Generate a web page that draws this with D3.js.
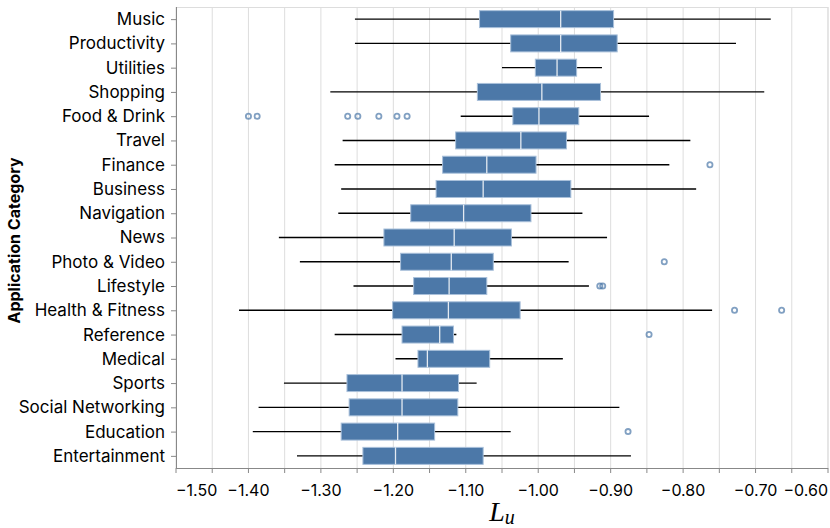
<!DOCTYPE html>
<html>
<head>
<meta charset="utf-8">
<script src="https://cdn.jsdelivr.net/npm/d3@7"></script>
<style>
  body { margin: 0; background: #fff; }
  text { font-family: Inter, "Noto Sans", sans-serif; }
</style>
</head>
<body>
<div id="chart"></div>
<script>
// categories, top to bottom
var categories = ['Music', 'Productivity', 'Utilities', 'Shopping', 'Food & Drink', 'Travel',
  'Finance', 'Business', 'Navigation', 'News', 'Photo & Video', 'Lifestyle', 'Health & Fitness',
  'Reference', 'Medical', 'Sports', 'Social Networking', 'Education', 'Entertainment'];

// box plot statistics
var lower  = [-1.253, -1.253, -1.050, -1.287, -1.107, -1.270, -1.281, -1.272, -1.276, -1.358,
              -1.329, -1.255, -1.413, -1.281, -1.197, -1.351, -1.386, -1.394, -1.333];
var q1     = [-1.081, -1.038, -1.004, -1.084, -1.035, -1.114, -1.132, -1.141, -1.176, -1.213,
              -1.190, -1.172, -1.201, -1.188, -1.166, -1.264, -1.261, -1.272, -1.242];
var median = [-0.969, -0.969, -0.974, -0.995, -0.999, -1.024, -1.071, -1.076, -1.103, -1.116,
              -1.120, -1.123, -1.124, -1.136, -1.153, -1.188, -1.188, -1.194, -1.197];
var q3     = [-0.896, -0.891, -0.947, -0.914, -0.944, -0.961, -1.003, -0.955, -1.010, -1.037,
              -1.062, -1.071, -1.025, -1.117, -1.067, -1.110, -1.111, -1.143, -1.076];
var upper  = [-0.679, -0.727, -0.912, -0.688, -0.847, -0.790, -0.819, -0.782, -0.939, -0.905,
              -0.958, -0.930, -0.760, -1.113, -0.966, -1.085, -0.888, -1.038, -0.872];
var outliers = [[], [], [], [],
  [-1.400, -1.388, -1.263, -1.249, -1.220, -1.195, -1.181],
  [], [-0.763], [], [], [], [-0.826], [-0.915, -0.911], [-0.729, -0.664],
  [-0.847], [], [], [], [-0.876], []];

var xDomain = [-1.5, -0.6];

var margin = { top: 7, right: 2, bottom: 60, left: 176 };
var width  = 830 - margin.left - margin.right;
var height = 528 - margin.top - margin.bottom;

var x = d3.scaleLinear().domain(xDomain).range([0, width]);
var y = d3.scaleBand().domain(categories).range([0, height]).paddingInner(0.3).paddingOuter(0.15);

var svg = d3.select('#chart').append('svg')
  .attr('width', 830).attr('height', 528)
  .append('g')
  .attr('transform', 'translate(' + margin.left + ',' + margin.top + ')');

var ticks = x.ticks(20);
var fmt = d3.format('.2f');

// grid
svg.append('g').selectAll('line').data(ticks).enter().append('line')
  .attr('x1', function(d) { return x(d); }).attr('x2', function(d) { return x(d); })
  .attr('y1', 0).attr('y2', height)
  .attr('stroke', '#ddd').attr('stroke-width', 1);

// view border
svg.append('rect')
  .attr('x', 0.5).attr('y', 0.5).attr('width', width - 0.5).attr('height', height)
  .attr('fill', 'none').attr('stroke', '#ddd');

var rows = svg.append('g').selectAll('g').data(categories).enter().append('g')
  .attr('transform', function(d) { return 'translate(0,' + (y(d) + y.bandwidth() / 2) + ')'; });

// whiskers
rows.append('line')
  .attr('x1', function(d, i) { return x(lower[i]); })
  .attr('x2', function(d, i) { return x(upper[i]); })
  .attr('y1', 0).attr('y2', 0)
  .attr('stroke', '#000').attr('stroke-width', 1.4);

// boxes
rows.append('rect')
  .attr('x', function(d, i) { return x(q1[i]); })
  .attr('width', function(d, i) { return x(q3[i]) - x(q1[i]); })
  .attr('y', -y.bandwidth() / 2).attr('height', y.bandwidth())
  .attr('fill', '#4c78a8')
  .attr('stroke', '#a9c0da').attr('stroke-width', 1);

// medians
rows.append('line')
  .attr('x1', function(d, i) { return x(median[i]); })
  .attr('x2', function(d, i) { return x(median[i]); })
  .attr('y1', -y.bandwidth() / 2).attr('y2', y.bandwidth() / 2)
  .attr('stroke', '#fff').attr('stroke-width', 1.3).attr('opacity', 0.85);

// outliers
rows.each(function(d, i) {
  d3.select(this).selectAll('circle').data(outliers[i]).enter().append('circle')
    .attr('cx', function(v) { return x(v); })
    .attr('cy', 0).attr('r', 2.6)
    .attr('fill', 'none').attr('stroke', '#4c78a8')
    .attr('stroke-width', 1.8).attr('opacity', 0.7);
});

// x axis
var xAxis = svg.append('g').attr('transform', 'translate(0,' + height + ')');
xAxis.append('line').attr('x1', 0).attr('x2', width).attr('y1', 0.5).attr('y2', 0.5)
  .attr('stroke', '#888');
xAxis.selectAll('line.tick').data(ticks).enter().append('line')
  .attr('class', 'tick')
  .attr('x1', function(d) { return x(d); }).attr('x2', function(d) { return x(d); })
  .attr('y1', 0).attr('y2', 5).attr('stroke', '#888');
xAxis.selectAll('text').data(ticks.filter(function(d, i) { return i % 2 === 0; }))
  .enter().append('text')
  .attr('x', function(d) { return x(d); })
  .attr('y', 28)
  .attr('text-anchor', function(d, i, n) {
    if (i === 0) return 'start';
    if (i === n.length - 1) return 'end';
    return 'middle';
  })
  .attr('font-size', 16).attr('fill', '#000')
  .text(function(d) { return fmt(d); });

// x title: L_u
var xt = svg.append('text')
  .attr('x', width / 2).attr('y', height + 53)
  .attr('text-anchor', 'middle')
  .style('font-family', '"Liberation Serif", "DejaVu Serif", serif')
  .style('font-style', 'italic').attr('font-size', 28).attr('fill', '#000');
xt.append('tspan').text('L');
xt.append('tspan').attr('font-size', 20).attr('dy', 3).text('u');

// y axis
var yAxis = svg.append('g');
yAxis.append('line').attr('x1', 0.5).attr('x2', 0.5).attr('y1', 0).attr('y2', height)
  .attr('stroke', '#888');
var yt = yAxis.selectAll('g').data(categories).enter().append('g')
  .attr('transform', function(d) { return 'translate(0,' + (y(d) + y.bandwidth() / 2) + ')'; });
yt.append('line').attr('x1', -5).attr('x2', 0).attr('y1', 0.5).attr('y2', 0.5).attr('stroke', '#888');
yt.append('text')
  .attr('x', -11).attr('dy', '0.35em')
  .attr('text-anchor', 'end').attr('font-size', 17).attr('fill', '#000')
  .text(function(d) { return d; });

// y title
svg.append('text')
  .attr('transform', 'translate(' + (-156) + ',' + (height / 2 + 3) + ') rotate(-90)')
  .attr('text-anchor', 'middle')
  .attr('font-size', 16).attr('font-weight', 'bold').attr('fill', '#000')
  .text('Application Category');
</script>
</body>
</html>
